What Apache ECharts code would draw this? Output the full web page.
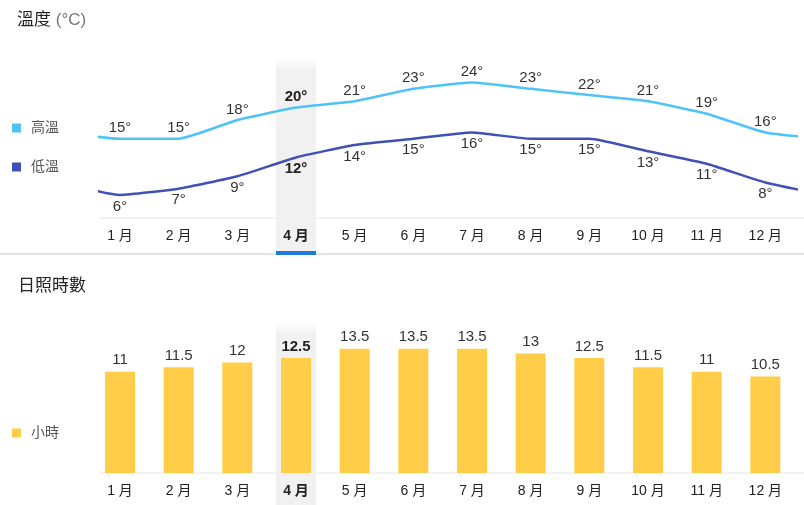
<!DOCTYPE html>
<html>
<head>
<meta charset="utf-8">
<script src="https://cdn.jsdelivr.net/npm/echarts@6/dist/echarts.min.js"></script>
<style>
	html, body { margin: 0; padding: 0; background: #fff; }
	#weather { width: 804px; height: 505px; }
</style>
</head>
<body>
<div id="weather"></div>
<script>
	const months = ['1 月', '2 月', '3 月', '4 月', '5 月', '6 月', '7 月', '8 月', '9 月', '10 月', '11 月', '12 月'];
	const highTemp = [15, 15, 18, 20, 21, 23, 24, 23, 22, 21, 19, 16];
	const lowTemp = [6, 7, 9, 12, 14, 15, 16, 15, 15, 13, 11, 8];
	const sunHours = [11, 11.5, 12, 12.5, 13.5, 13.5, 13.5, 13, 12.5, 11.5, 11, 10.5];
	const selected = 3; // 4 月

	const FONT = '"Liberation Sans", Arial, "Noto Sans CJK TC", sans-serif';

	// line points: month 1..12, plus the neighbour months on each side (wrap round the year)
	function linePoints(vals) {
		let arr = [{ value: [0, vals[11]], label: { show: false } }];
		vals.forEach((v, i) => {
			let item = { value: [i + 1, v] };
			if(i === selected) item.label = { fontWeight: 'bold', color: '#222' };
			arr.push(item);
		});
		arr.push({ value: [13, vals[0]], label: { show: false } });
		return arr;
	}
	function barPoints(vals) {
		return vals.map((v, i) => i === selected ? { value: v, label: { fontWeight: 'bold', color: '#222' } } : v);
	}
	const cats = months.map((m, i) => i === selected ? { value: m, textStyle: { fontWeight: 'bold' } } : m);
	const pick = months.map((m, i) => i === selected ? 1 : '-');

	// category layout: first centre at 120px, step 58.67px
	const catLeft = 90.67, catRight = 9.33;
	// value axis for the lines, clipped between 100px and 795.7px
	const xMin = 1 - 20 / 58.67;
	const xMax = xMin + 695.7 / 58.67;

	function bandColor(stop) {
		return new echarts.graphic.LinearGradient(0, 0, 0, 1, [
			{ offset: 0, color: 'rgba(241,241,241,0)' },
			{ offset: stop, color: '#f1f1f1' },
			{ offset: 1, color: '#f1f1f1' }
		]);
	}
	const hidden = { show: false };
	const labelAxis = (grid) => ({
		type: 'category', gridIndex: grid, data: cats,
		axisLine: hidden, axisTick: hidden,
		axisLabel: { color: '#222', fontSize: 14, fontFamily: FONT, margin: 11 }
	});
	const hiddenCat = (grid) => ({ type: 'category', gridIndex: grid, data: months, show: false });
	const lineAxis = (grid) => ({
		type: 'value', gridIndex: grid, min: 0, max: 1,
		axisLine: { show: true, lineStyle: { color: '#eeeeee', width: 1.5 } },
		axisTick: hidden, axisLabel: hidden, splitLine: hidden
	});
	const titleStyle = {
		color: '#222', fontSize: 17, fontWeight: 'normal', fontFamily: FONT,
		rich: { u: { color: '#777', fontSize: 17, fontFamily: FONT } }
	};
	const valueLabel = {
		show: true, color: '#333', fontSize: 15, fontFamily: FONT
	};

	let chart = echarts.init(document.getElementById('weather'));
	const option = {
		animation: false,
		textStyle: { fontFamily: FONT },
		title: [{
			text: '溫度 {u|(°C)}', left: 17, top: 12, padding: 0,
			textStyle: titleStyle
		}, {
			text: '日照時數', left: 18, top: 278, padding: 0,
			textStyle: titleStyle
		}],
		legend: [{
			data: ['高溫', '低溫'],
			orient: 'vertical', left: 12, top: 121, padding: 0,
			itemWidth: 9, itemHeight: 9, itemGap: 25, icon: 'rect',
			textStyle: { color: '#555', fontSize: 14, padding: [0, 0, 0, 5] }
		}, {
			data: ['小時'],
			orient: 'vertical', left: 12, top: 426, padding: 0,
			itemWidth: 9, itemHeight: 9, icon: 'rect',
			textStyle: { color: '#555', fontSize: 14, padding: [0, 0, 0, 5] }
		}],
		grid: [
			{ left: 100, right: 8.3, top: 57, bottom: 287, outerBoundsMode: 'none' },          // 0 lines
			{ left: catLeft, right: catRight, top: 57, bottom: 287, outerBoundsMode: 'none' },  // 1 month labels
			{ left: catLeft, right: catRight, top: 57, bottom: 250, outerBoundsMode: 'none' },  // 2 highlight band
			{ left: catLeft, right: catRight, top: 251, bottom: 250, outerBoundsMode: 'none' }, // 3 blue underline
			{ left: 100, right: 0, top: 57, bottom: 287, outerBoundsMode: 'none' },             // 4 axis line
			{ left: catLeft, right: catRight, top: 335, bottom: 32, outerBoundsMode: 'none' },  // 5 bars
			{ left: catLeft, right: catRight, top: 322, bottom: 0, outerBoundsMode: 'none' },   // 6 highlight band
			{ left: 100, right: 0, top: 335, bottom: 32, outerBoundsMode: 'none' }              // 7 axis line
		],
		xAxis: [
			{ type: 'value', gridIndex: 0, min: xMin, max: xMax, show: false },
			labelAxis(1),
			hiddenCat(2),
			hiddenCat(3),
			lineAxis(4),
			labelAxis(5),
			hiddenCat(6),
			lineAxis(7)
		],
		yAxis: [
			{ type: 'value', gridIndex: 0, min: 2.3, max: 28.1, show: false },
			{ type: 'value', gridIndex: 1, show: false },
			{ type: 'value', gridIndex: 2, min: 0, max: 1, show: false },
			{ type: 'value', gridIndex: 3, min: 0, max: 1, show: false },
			{ type: 'value', gridIndex: 4, show: false },
			{ type: 'value', gridIndex: 5, min: 0, max: 15, show: false },
			{ type: 'value', gridIndex: 6, min: 0, max: 1, show: false },
			{ type: 'value', gridIndex: 7, show: false }
		],
		graphic: [{
			type: 'line', z: 1,
			shape: { x1: 0, y1: 254, x2: 804, y2: 254 },
			style: { stroke: '#e3e3e3', lineWidth: 2 }
		}],
		series: [{
			type: 'bar', xAxisIndex: 2, yAxisIndex: 2, z: 0,
			barWidth: 40, data: pick, silent: true,
			itemStyle: { color: bandColor(0.07) }
		}, {
			type: 'bar', xAxisIndex: 3, yAxisIndex: 3, z: 5,
			barWidth: 40, data: pick, silent: true,
			itemStyle: { color: '#1f7ae0' }
		}, {
			type: 'bar', xAxisIndex: 6, yAxisIndex: 6, z: 0,
			barWidth: 40, data: pick, silent: true,
			itemStyle: { color: bandColor(0.07) }
		}, {
			name: '高溫',
			type: 'line', xAxisIndex: 0, yAxisIndex: 0, z: 3,
			smooth: 0.15, symbol: 'circle', symbolSize: 0,
			itemStyle: { color: '#4fc3f7' },
			lineStyle: { color: '#4fc3f7', width: 2.5 },
			label: Object.assign({}, valueLabel, {
				position: 'top', distance: 3,
				formatter: (p) => p.value[1] + '°'
			}),
			data: linePoints(highTemp)
		}, {
			name: '低溫',
			type: 'line', xAxisIndex: 0, yAxisIndex: 0, z: 3,
			smooth: 0.15, symbol: 'circle', symbolSize: 0,
			itemStyle: { color: '#3f51b5' },
			lineStyle: { color: '#3f51b5', width: 2.5 },
			label: Object.assign({}, valueLabel, {
				position: 'bottom', distance: 4,
				formatter: (p) => p.value[1] + '°'
			}),
			data: linePoints(lowTemp)
		}, {
			name: '小時',
			type: 'bar', xAxisIndex: 5, yAxisIndex: 5, z: 3,
			barWidth: 30,
			itemStyle: { color: '#ffcd48' },
			label: Object.assign({}, valueLabel, { position: 'top', distance: 4 }),
			data: barPoints(sunHours)
		}]
	};
	chart.setOption(option);
</script>
</body>
</html>
